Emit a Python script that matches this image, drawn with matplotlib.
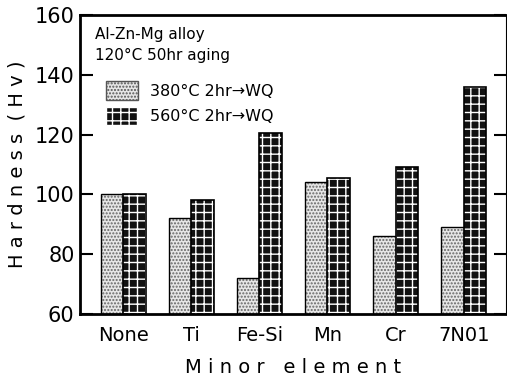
import matplotlib.pyplot as plt
import numpy as np
from matplotlib.patches import Patch

elements = ["None", "Ti", "Fe-Si", "Mn", "Cr", "7N01"]
hv_380 = [100, 92, 72, 104, 86, 89]
hv_560 = [100, 98, 120.5, 105.5, 109, 136]
labels = ["380°C 2hr→WQ", "560°C 2hr→WQ"]

plt.rcParams['font.family'] = ['DejaVu Sans']
plt.rcParams['hatch.linewidth'] = 1.0

fig = plt.figure(figsize=(5.07, 3.76), dpi=100)
ax = fig.add_axes([0.158, 0.165, 0.84, 0.795])

x = np.arange(len(elements))
w = 0.33

# light stippled bars
ax.bar(x - w / 2, hv_380, w, color='#e6e6e6', edgecolor='#666666',
       hatch='.....', linewidth=0)
ax.bar(x - w / 2, hv_380, w, fill=False, edgecolor='black', linewidth=1.0)

# dark "brick" bars
ax.bar(x + w / 2, hv_560, w, color='#111111', edgecolor='white',
       hatch='++', linewidth=0)
ax.bar(x + w / 2, hv_560, w, fill=False, edgecolor='black', linewidth=1.2)

ax.set_ylim(60, 160)
ax.set_xlim(-0.63, 5.62)
ax.set_yticks(range(60, 161, 20))
ax.set_xticks(x)
ax.set_xticklabels(elements, fontsize=14)
ax.tick_params(axis='x', length=0, pad=9)
ax.tick_params(axis='y', direction='in', length=9, width=1.5, labelsize=15,
               right=True, pad=4)
for s in ax.spines.values():
    s.set_linewidth(2)
ax.spines['right'].set_linewidth(0.8)

ax.set_xlabel("M i n o r   e l e m e n t", fontsize=14, labelpad=9)
ax.set_ylabel("H a r d n e s s  ( H v )", fontsize=14, labelpad=6)

ax.text(0.035, 0.96, "Al-Zn-Mg alloy\n120°C 50hr aging", transform=ax.transAxes,
        fontsize=11, va='top', ha='left', linespacing=1.5)

# legend swatches
h1 = Patch(facecolor='#e6e6e6', edgecolor='#555555', hatch='.....', linewidth=1)
h2 = Patch(facecolor='#111111', edgecolor='white', hatch='++', linewidth=1)
ax.legend([h1, h2], labels, loc='upper left', bbox_to_anchor=(0.045, 0.8),
          frameon=False, fontsize=11.5, handlelength=2.0, handleheight=1.4,
          handletextpad=0.8, borderaxespad=0, labelspacing=0.45)

fig.savefig("out.png", dpi=100)
